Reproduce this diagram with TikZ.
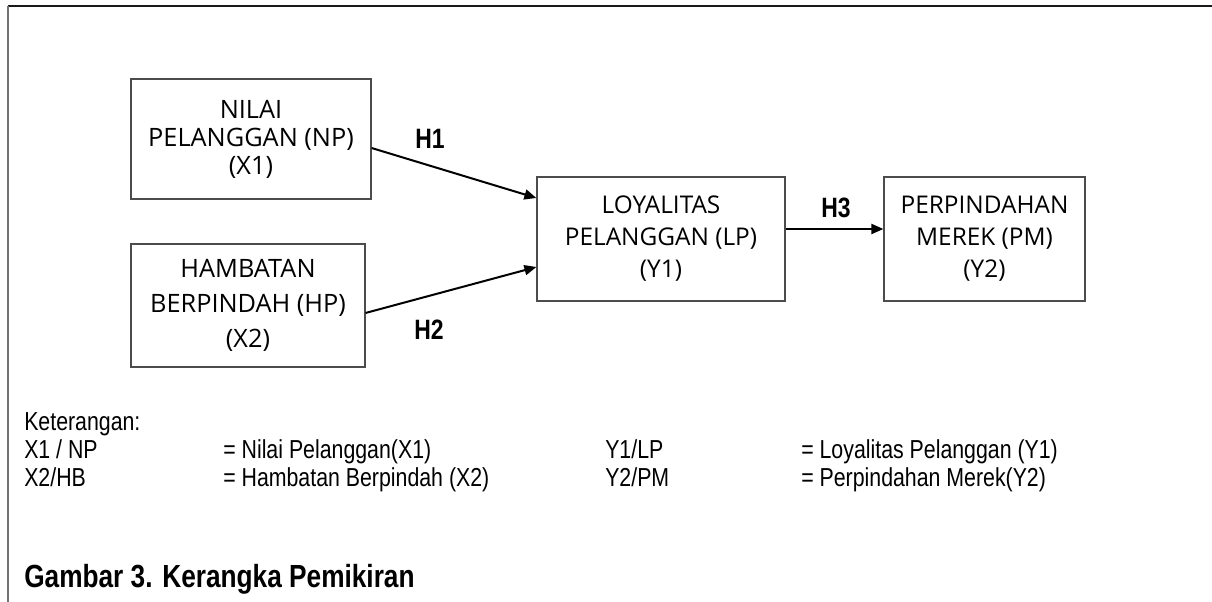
\documentclass[tikz,border=0pt]{standalone}
\usepackage{fontspec}
\setmainfont{Liberation Sans}[FakeStretch=0.82]
\newfontfamily\boxfont{Open Sans}
\usetikzlibrary{arrows.meta}
\tikzset{
  varbox/.style={draw=black!70, line width=0.9pt, inner sep=0pt, align=center, text=black},
  arr/.style={line width=1.5pt, -{Triangle[length=9pt,width=7.5pt]}},
  hlab/.style={font=\bfseries\fontsize{21pt}{24pt}\selectfont, inner sep=0pt},
  leg/.style={font=\fontsize{19.5pt}{22pt}\selectfont, anchor=base west, inner sep=0pt},
}
\begin{document}
\begin{tikzpicture}[x=0.75pt,y=-0.75pt]
\useasboundingbox (0,0) rectangle (1212,602);
% frame
\draw[black!90, line width=1.3pt] (8,6) -- (1212,6);
\draw[black!55, line width=1.3pt] (8,6) -- (8,602);
% boxes
\node[varbox, minimum width=180pt, minimum height=90pt,
  font=\boxfont\fontsize{19pt}{21pt}\selectfont] (np) at (251,139)
  {NILAI\\PELANGGAN (NP)\\(X1)};
\node[varbox, minimum width=175.5pt, minimum height=92.25pt,
  font=\boxfont\fontsize{19pt}{26.25pt}\selectfont] (hp) at (248,305.5)
  {HAMBATAN\\BERPINDAH (HP)\\(X2)};
\node[varbox, minimum width=186pt, minimum height=93pt,
  font=\boxfont\fontsize{18.3pt}{24pt}\selectfont] (lp) at (661,239)
  {LOYALITAS\\PELANGGAN (LP)\\(Y1)};
\node[varbox, minimum width=150.75pt, minimum height=93pt,
  font=\boxfont\fontsize{18.3pt}{24pt}\selectfont] (pm) at (984.5,239)
  {PERPINDAHAN\\MEREK (PM)\\(Y2)};
% arrows
\draw[arr] ([yshift=-6.75pt]np.east) -- ([yshift=30.75pt]lp.west);
\draw[arr] ([yshift=-5.6pt]hp.east) -- ([yshift=-21pt]lp.west);
\draw[arr] ([yshift=7.5pt]lp.east) -- ([yshift=7.5pt]pm.west);
% labels
\node[hlab] (h1) at (430,139) {H1};
\node[hlab] (h2) at (429,330) {H2};
\node[hlab] (h3) at (836,208) {H3};
% legend
\node[leg] (ket) at (24,430) {Keterangan:};
\node[leg] (a1) at (24,458) {X1 / NP};
\node[leg] (a2) at (223,458) {= Nilai Pelanggan(X1)};
\node[leg] (a3) at (605,458) {Y1/LP};
\node[leg] (a4) at (801,458) {= Loyalitas Pelanggan (Y1)};
\node[leg] (b1) at (24,486) {X2/HB};
\node[leg] (b2) at (223,486) {= Hambatan Berpindah (X2)};
\node[leg] (b3) at (605,486) {Y2/PM};
\node[leg] (b4) at (801,486) {= Perpindahan Merek(Y2)};
% caption
\node[anchor=base west, inner sep=0pt, font=\bfseries\fontsize{24pt}{28pt}\selectfont] (cap) at (24,587) {Gambar 3. Kerangka Pemikiran};
\end{tikzpicture}
\end{document}
